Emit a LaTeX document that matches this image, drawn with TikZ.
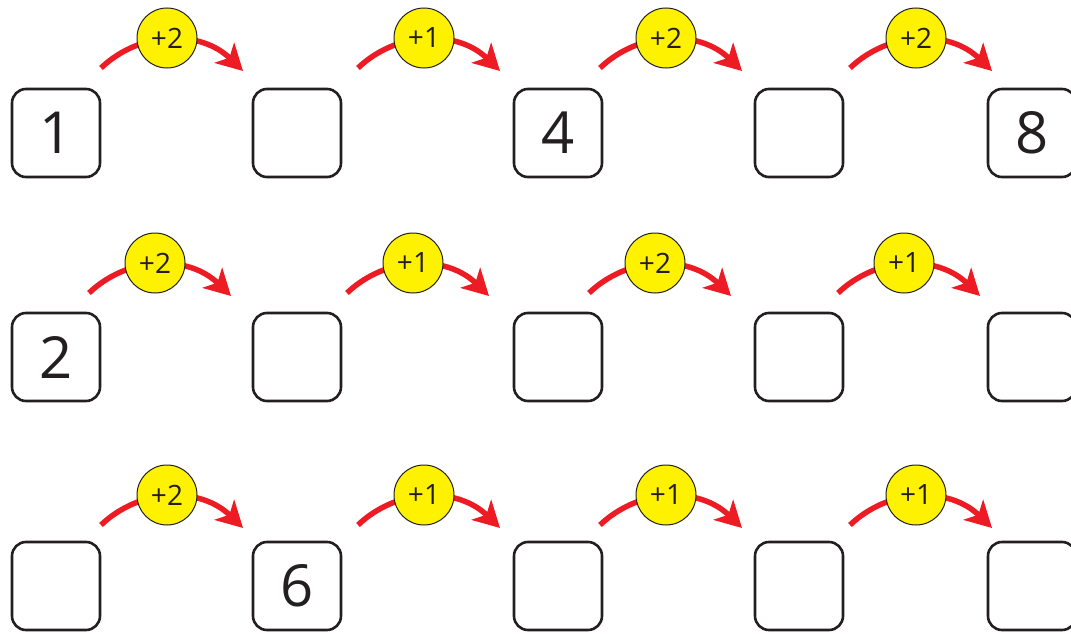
\documentclass[tikz,border=0pt]{standalone}
\usepackage{fontspec}
\setmainfont{Open Sans}
\usetikzlibrary{arrows.meta}
\definecolor{arcred}{HTML}{ED1C24}
\definecolor{badge}{HTML}{FFF200}
\definecolor{ink}{HTML}{231F20}
\tikzset{
  numbox/.style={draw=ink, line width=2.6pt, rounded corners=14pt, minimum width=88pt, minimum height=88pt, inner sep=0pt, text=ink, font=\fontsize{58}{60}\selectfont},
  numtext/.style={text=ink, font=\fontsize{58}{60}\selectfont},
  hop/.style={draw=arcred, line width=5.5pt, -{Stealth[length=26pt,width=28pt,inset=7pt]}},
  badgecirc/.style={circle, draw=ink, line width=1pt, fill=badge, minimum size=60pt, inner sep=0pt, text=ink, font=\fontsize{28}{30}\selectfont}
}
\begin{document}
\begin{tikzpicture}[x=1pt,y=-1pt]
\useasboundingbox (0,0) rectangle (1071,634);
\clip (0,0) rectangle (1071,634);
% boxes
\foreach \r/\y in {1/133,2/357,3/586}{
  \foreach \c/\x in {1/56,2/297,3/558,4/799,5/1032}{
    \node[numbox] (b\r\c) at (\x,\y) {};
  }
}
\node[numtext] (t11) at (b11) {1};
\node[numtext] (t13) at (b13) {4};
\node[numtext] (t15) at (b15) {8};
\node[numtext] (t21) at (b21) {2};
\node[numtext] (t32) at (b32) {6};
% hops: row/column/start x/start y/label
\foreach \r/\c/\x/\y/\lab in {
  1/1/101/68/+2, 1/2/358/68/+1, 1/3/600/68/+2, 1/4/850/68/+2,
  2/1/89/293/+2, 2/2/347/293/+1, 2/3/589/293/+2, 2/4/838/293/+1,
  3/1/101/525/+2, 3/2/358/525/+1, 3/3/600/525/+1, 3/4/850/525/+1}{
  \coordinate (s\r\c) at (\x,\y);
  \coordinate (e\r\c) at (\x+142,\y+3);
  \draw[hop] (s\r\c) .. controls (\x+40,\y-38) and (\x+100,\y-38) .. (e\r\c);
  \node[badgecirc] (c\r\c) at (\x+66,\y-30) {\lab};
}
\end{tikzpicture}
\end{document}
